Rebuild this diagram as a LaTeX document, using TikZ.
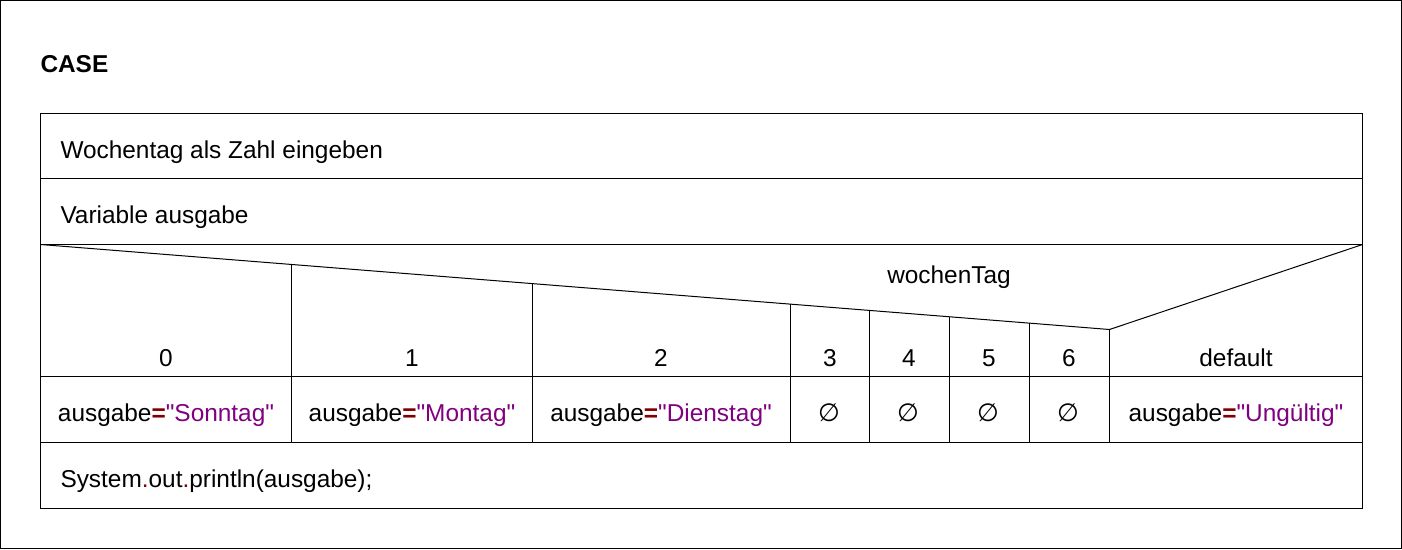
\documentclass[tikz,border=0pt]{standalone}
\usepackage{fontspec}
\setmainfont{Liberation Sans}[Ligatures=TeXOff]
\newfontfamily\symfont{DejaVu Sans}
\definecolor{kw}{RGB}{127,0,0}
\definecolor{strc}{RGB}{128,0,128}
\newcommand{\asg}[1]{ausgabe\textcolor{kw}{\textbf{=}}\textcolor{strc}{"#1"}}
\newcommand{\dotc}{\textcolor{kw}{.}}
\begin{document}
\begin{tikzpicture}[x=1pt,y=-1pt,line width=1pt,
  txt/.style={inner sep=0pt,anchor=base,font=\fontsize{24.4}{28}\selectfont},
  ltxt/.style={txt,anchor=base west},
  emp/.style={inner sep=0pt,anchor=base,font=\symfont\fontsize{25}{29}\selectfont}]
\useasboundingbox (0,0) rectangle (1402,549);
\draw (0.5,0.5) rectangle (1401.5,548.5);
\draw (40.5,113.5) rectangle (1362.5,508.5);
\foreach \y in {178.5,244.5,376.5,442.5}
  \draw (40.5,\y) -- (1362.5,\y);
\coordinate (dl) at (40.5,244.5);
\coordinate (dm) at (1109.5,329.5);
\coordinate (dr) at (1362.5,244.5);
\draw (dl) -- (dm) -- (dr);
\foreach \x in {291.5,532.5,790.5,869.5,949.5,1029.5,1109.5}
  \draw (\x,{244.5+(\x-40.5)/1069*85}) -- (\x,442.5);
% texts
\node[ltxt,font=\fontsize{24.4}{28}\selectfont\bfseries] (case) at (40,72) {CASE};
\node[ltxt] (r1) at (60,158) {Wochentag als Zahl eingeben};
\node[ltxt] (r2) at (60,223) {Variable ausgabe};
\node[txt] (sel) at (949,283) {wochenTag};
\node[txt] (c0) at (166,366) {0};
\node[txt] (c1) at (412,366) {1};
\node[txt] (c2) at (661,366) {2};
\node[txt] (c3) at (830,366) {3};
\node[txt] (c4) at (909,366) {4};
\node[txt] (c5) at (989,366) {5};
\node[txt] (c6) at (1069,366) {6};
\node[txt] (cd) at (1236,366) {default};
\node[txt] (a0) at (166,421.5) {\asg{Sonntag}};
\node[txt] (a1) at (412,421.5) {\asg{Montag}};
\node[txt] (a2) at (661,421.5) {\asg{Dienstag}};
\node[emp] (a3) at (829,421.5) {∅};
\node[emp] (a4) at (908,421.5) {∅};
\node[emp] (a5) at (988,421.5) {∅};
\node[emp] (a6) at (1068,421.5) {∅};
\node[txt] (ad) at (1236,421.5) {\asg{Ungültig}};
\node[ltxt] (out) at (60,487) {System\dotc out\dotc println(ausgabe);};
\end{tikzpicture}
\end{document}
